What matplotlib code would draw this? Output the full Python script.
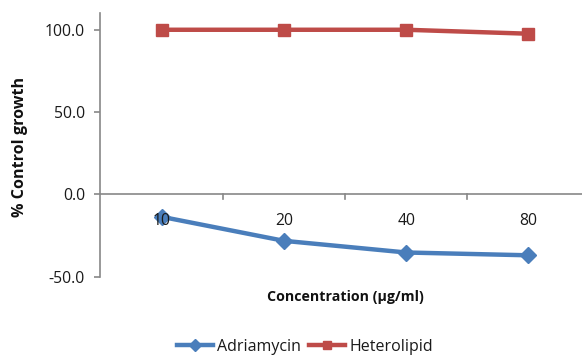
import matplotlib
matplotlib.use("Agg")
import matplotlib.pyplot as plt
from matplotlib.ticker import FuncFormatter

plt.rcParams['font.family'] = ['Open Sans', 'DejaVu Sans']

concentrations = ["10", "20", "40", "80"]
adriamycin = [-13.6, -28.2, -35.3, -37.0]
heterolipid = [100.0, 100.0, 100.0, 97.6]

W, H = 582, 358
fig = plt.figure(figsize=(W / 100, H / 100), dpi=100)
# plot area (pixel bounds converted to figure fractions)
left, right, top, bottom = 100.4, 589.6, 13.3, 276.7
ax = fig.add_axes([left / W, 1 - bottom / H, (right - left) / W, (bottom - top) / H])

x = list(range(len(concentrations)))
blue = "#4A7EBB"
red = "#BE4B48"
axis_gray = "#878787"
text_color = "#1a1a1a"

ax.plot(x, adriamycin, color=blue, lw=3.2, marker="D", ms=8.5,
        markeredgecolor=blue, label="Adriamycin")
ax.plot(x, heterolipid, color=red, lw=3.2, marker="s", ms=8.5,
        markeredgecolor=red, label="Heterolipid")

ax.set_xlim(-0.5, len(x) - 0.5)
ax.set_ylim(-50, 110)

for s in ("top", "right", "bottom"):
    ax.spines[s].set_visible(False)
ax.spines["left"].set_color(axis_gray)
ax.spines["left"].set_linewidth(1.2)
ax.axhline(0, color=axis_gray, lw=1.2, zorder=1)

ax.set_yticks([-50, 0, 50, 100])
ax.yaxis.set_major_formatter(FuncFormatter(lambda v, p: f"{v:.1f}"))
ax.tick_params(axis="y", direction="out", length=4, width=1.2, color=axis_gray,
               labelsize=11.3, pad=7, labelcolor=text_color)

# category separator ticks along the zero line
ax.set_xticks([])
for b in [0.5, 1.5, 2.5]:
    ax.plot([b, b], [0, -2.6], color=axis_gray, lw=1.2, clip_on=False, zorder=1)
for xi, lab in zip(x, concentrations):
    ax.annotate(lab, (xi, 0), xytext=(0, -19), textcoords="offset points",
                ha="center", va="center", fontsize=11.3, color=text_color,
                zorder=5)

fig.text(20 / W, 1 - 147 / H, "% Control growth", rotation=90, ha="center",
         va="center", fontsize=11.6, fontweight="bold", color="#111111")
fig.text(345 / W, 1 - 297 / H, "Concentration (µg/ml)", ha="center",
         va="center", fontsize=10.2, fontweight="bold", color="#111111")

fig.legend(loc="center", bbox_to_anchor=(305 / W, 1 - 347 / H), ncol=2,
           frameon=False, fontsize=11.5, handlelength=2.25, columnspacing=0.5,
           handletextpad=0.25, markerscale=0.75,
           labelcolor=text_color)

fig.savefig("out.png", dpi=100)
